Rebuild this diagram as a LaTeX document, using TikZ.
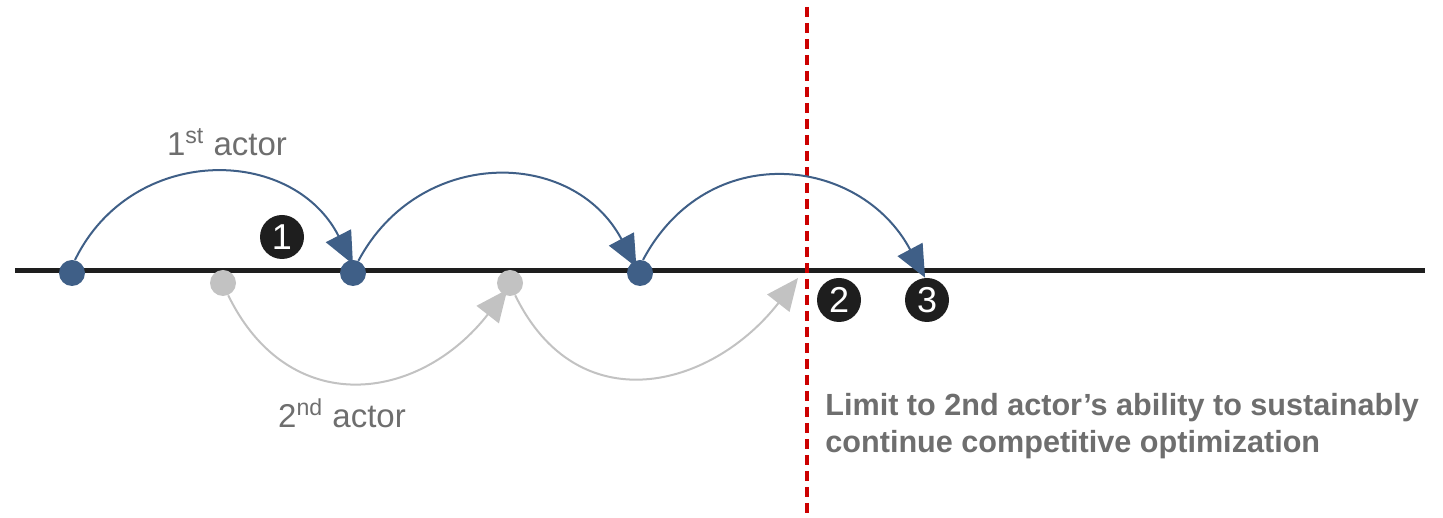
\documentclass[tikz,border=0pt]{standalone}
\usepackage{fontspec}
\setmainfont{Liberation Sans}
\usetikzlibrary{arrows.meta}
\definecolor{bluec}{HTML}{3F5F87}
\definecolor{grayc}{HTML}{C2C2C2}
\definecolor{textc}{HTML}{6E6E6E}
\definecolor{numc}{HTML}{1E1E1E}
\definecolor{redc}{HTML}{CC0000}
\begin{document}
\begin{tikzpicture}[x=0.5pt,y=0.5pt,
  bdot/.style={circle,fill=bluec,minimum size=13pt,inner sep=0pt},
  gdot/.style={circle,fill=grayc,minimum size=13pt,inner sep=0pt},
  num/.style={circle,fill=numc,text=white,minimum size=22pt,inner sep=0pt,font=\fontsize{18}{18}\selectfont},
  barrow/.style={draw=bluec,line width=1pt,-{Triangle[length=16pt,width=14pt]}},
  garrow/.style={draw=grayc,line width=1pt,-{Triangle[length=16pt,width=14pt]}},
  lbl/.style={text=textc,font=\fontsize{16.5}{19}\selectfont,anchor=base},
  limtext/.style={text=textc,font=\bfseries\fontsize{15.3}{18.5}\selectfont,anchor=base west,inner sep=0pt}
]
\useasboundingbox (0,0) rectangle (1443,518);
% red dashed limit line
\coordinate (rtop) at (807,511);
\coordinate (rbot) at (807,0);
% timeline
\coordinate (lstart) at (15,247);
\coordinate (lend) at (1425,247);
\draw[line width=2.5pt,numc] (lstart) -- (lend);
\draw[redc,line width=2pt,dash pattern=on 5pt off 3pt] (rtop) -- (rbot);
% dots
\node[bdot] (d1) at (72,245) {};
\node[bdot] (d2) at (353,245) {};
\node[bdot] (d3) at (640,245) {};
\node[gdot] (g1) at (223,235) {};
\node[gdot] (g2) at (510,235) {};
% numbered circles
\node[num] (n1) at (282,281) {1};
\node[num] (n2) at (839,218) {2};
\node[num] (n3) at (927,218) {3};
% blue arcs
\draw[barrow,shorten >=-2.5pt] (d1.77) to[out=64,in=117,looseness=1.2] (d2.100);
\draw[barrow,shorten >=-3.3pt] (d2.66) to[out=62,in=118,looseness=1.2] (d3.120);
\draw[barrow] (d3.77) to[out=62,in=118,looseness=1.25] (n3.95);
% gray arcs
\coordinate (e2) at (798,240);
\draw[garrow,shorten >=-3.3pt] (g1.-67) to[out=-64,in=-128,looseness=1.28] (g2.-120);
\draw[garrow] (g2.-67) to[out=-64,in=-128,looseness=1.28] (e2);
% labels
\node[lbl] (l1) at (227,362) {1\textsuperscript{st} actor};
\node[lbl] (l2) at (342,90) {2\textsuperscript{nd} actor};
\node[limtext] (t1) at (825,102) {Limit to 2nd actor’s ability to sustainably};
\node[limtext] (t2) at (825,65) {continue competitive optimization};
\end{tikzpicture}
\end{document}
